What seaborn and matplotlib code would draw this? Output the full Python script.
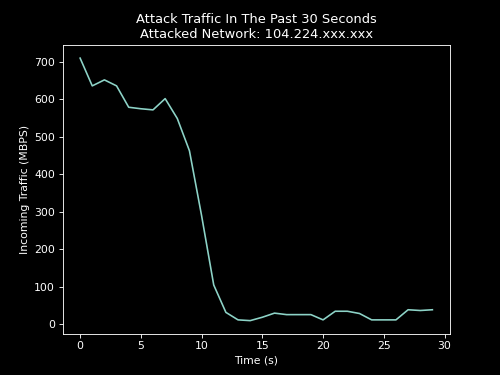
import numpy as np
import pandas as pd
import matplotlib
matplotlib.use("Agg")
import matplotlib.pyplot as plt
import seaborn as sns

# seconds and incoming traffic
seconds = list(range(30))
traffic = [710, 636, 652, 636, 579, 575, 572, 602, 549, 463,
           290, 105, 32, 12, 10, 19, 30, 26, 26, 26,
           12, 35, 35, 29, 12, 12, 12, 39, 37, 39]

df = pd.DataFrame({"Time (s)": seconds, "Incoming Traffic (MBPS)": traffic})

plt.style.use("dark_background")
fig, ax = plt.subplots(figsize=(6.4, 4.8), dpi=78.125)
sns.lineplot(data=df, x="Time (s)", y="Incoming Traffic (MBPS)", color="#8dd3c7", ax=ax)
ax.set_title("Attack Traffic In The Past 30 Seconds\nAttacked Network: 104.224.xxx.xxx")
ax.set_xticks([0, 5, 10, 15, 20, 25, 30])
fig.savefig("out.png")
